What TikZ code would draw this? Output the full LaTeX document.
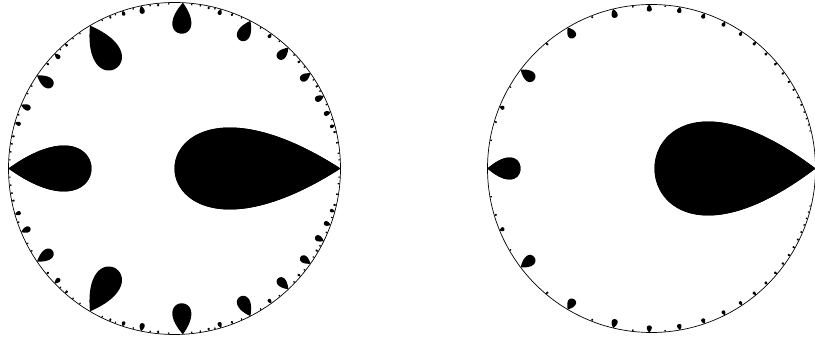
\documentclass[tikz,border=0pt]{standalone}
\usetikzlibrary{calc}
% teardrop: #1 cx, #2 cy, #3 R, #4 polar angle of cusp, #5 length, #6 max half-width
\newcommand{\tdrop}[6]{%
  \fill[black] plot[domain=0:360, samples=72, smooth, variable=\t]
   ({#1+(#3-#5*(1-cos(\t))/2)*cos(#4)-(#6/0.77)*sin(\t)*sin(\t/2)*sin(#4)},
    {#2+(#3-#5*(1-cos(\t))/2)*sin(#4)+(#6/0.77)*sin(\t)*sin(\t/2)*cos(#4)}) -- cycle;}
\tikzset{rim/.style={draw=black, line width=0.7pt}}
\begin{document}
\begin{tikzpicture}[x=1pt,y=1pt]
\useasboundingbox (0,0) rectangle (815,344);
% ---------- left disc ----------
\def\LX{174.5}\def\LY{175.5}\def\LR{166}
\foreach \a/\l/\h in {0/166/41, 180/83/23, 87.1/31/9.5, 120.6/50/14, 62.8/22/6.5,
  46.7/15/4.5, 35/12/3.7, 25.9/9.5/3, 19.9/7/2.3, 15/5/1.7, 145.9/19/5.5,
  157.5/10/3, 164/6/2, 101.6/8/2.5, 108.2/5/1.7, 136.2/7/2.2, 73.8/6/2,
  54.3/5/1.7, 131.2/3.5/1.2, 95.7/3/1, 78/3/1, 69.5/3/1, 40.6/3.5/1.1,
  30/3/1, 113/3/1, 140.5/3/1, 168.7/3/1, 12.8/3/1, 9/2.5/0.8, 5.3/2.2/0.7,
  171.4/2.5/0.8, 174.2/2.2/0.7,
  92/2/0.7, 98.5/2/0.7, 104.5/2/0.7, 111/2/0.7, 116/2/0.7, 125/2/0.7,
  128/2/0.7, 133.8/2/0.7, 150/2/0.7, 153/2/0.7, 161/2/0.7, 84/2/0.7,
  81/2/0.7, 75.8/2/0.7, 66/2/0.7, 58.5/2/0.7, 50.5/2/0.7, 43.5/2/0.7,
  38/2/0.7, 32.5/2/0.7, 28/2/0.7, 22.8/2/0.7, 17.3/2/0.7, 3/2/0.6, 177/2/0.6}
{ \tdrop{\LX}{\LY}{\LR}{\a}{\l}{\h}
  \tdrop{\LX}{\LY}{\LR}{-\a}{\l}{\h} }
\draw[rim] (\LX,\LY) circle (\LR);
% ---------- right disc ----------
\def\RX{651.5}\def\RY{175.5}\def\RR{164}
\foreach \a/\l/\h in {0/161/47, 180/33/11, 142.9/17/5.5, 120.7/12/4.2,
  103.5/9/3, 90.8/7/2.5, 80/6/2.2, 71.2/5.5/2, 63.4/5/1.8, 56.5/4.5/1.6,
  50.5/4/1.4, 45/3.6/1.3, 40.1/3.3/1.2, 35.9/3/1.1, 32.2/2.8/1, 29/2.6/1,
  25.9/2.4/0.9, 23/2.2/0.8, 20.3/2/0.8, 17.8/2/0.7, 15.5/1.8/0.7,
  13.3/1.8/0.6, 157.8/5/2, 163.4/2.5/0.9, 130/3/1, 111.4/2.5/0.9,
  96.6/2/0.8, 85.2/2/0.7, 150/2/0.7, 170/2/0.7}
{ \tdrop{\RX}{\RY}{\RR}{\a}{\l}{\h}
  \tdrop{\RX}{\RY}{\RR}{-\a}{\l}{\h} }
\draw[rim] (\RX,\RY) circle (\RR);
\end{tikzpicture}
\end{document}
